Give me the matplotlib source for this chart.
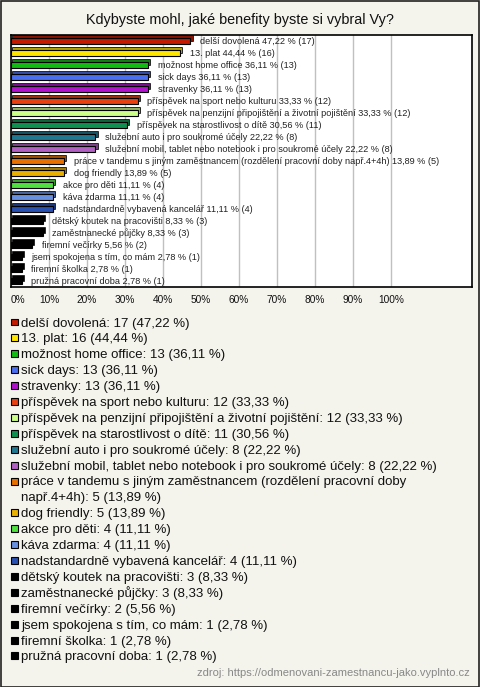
import matplotlib.pyplot as plt
import matplotlib.patheffects as pe
from matplotlib.colors import to_rgb
from matplotlib.patches import Rectangle

plt.rcParams['font.family'] = ['Liberation Sans', 'DejaVu Sans']

# data
benefits = [
    'delší dovolená', '13. plat', 'možnost home office', 'sick days', 'stravenky',
    'příspěvek na sport nebo kulturu',
    'příspěvek na penzijní připojištění a životní pojištění',
    'příspěvek na starostlivost o dítě', 'služební auto i pro soukromé účely',
    'služební mobil, tablet nebo notebook i pro soukromé účely',
    'práce v tandemu s jiným zaměstnancem (rozdělení pracovní doby např.4+4h)',
    'dog friendly', 'akce pro děti', 'káva zdarma', 'nadstandardně vybavená kancelář',
    'dětský koutek na pracovišti', 'zaměstnanecké půjčky', 'firemní večírky',
    'jsem spokojena s tím, co mám', 'firemní školka', 'pružná pracovní doba',
]
counts = [17, 16, 13, 13, 13, 12, 12, 11, 8, 8, 5, 5, 4, 4, 4, 3, 3, 2, 1, 1, 1]
percents = [47.22, 44.44, 36.11, 36.11, 36.11, 33.33, 33.33, 30.56, 22.22, 22.22,
            13.89, 13.89, 11.11, 11.11, 11.11, 8.33, 8.33, 5.56, 2.78, 2.78, 2.78]
colors = ['#c41a00', '#ffe600', '#12bb12', '#4a6ef0', '#b012cc', '#e84010',
          '#ccff88', '#109050', '#207890', '#b060c0', '#e87000', '#e8b000',
          '#50e040', '#6890e0', '#2850b0',
          '#000000', '#000000', '#000000', '#000000', '#000000', '#000000']
ticks = [0, 10, 20, 30, 40, 50, 60, 70, 80, 90, 100]
tick_labels = ['0%', '10%', '20%', '30%', '40%', '50%', '60%', '70%', '80%', '90%', '100%']
legend_breaks = {'práce v tandemu s jiným zaměstnancem (rozdělení pracovní doby např.4+4h)':
                 'práce v tandemu s jiným zaměstnancem (rozdělení pracovní doby\nnapř.4+4h)'}


def fmt(p):
    return ('%.2f' % p).replace('.', ',')


bg = '#f4f3ec'
W, H = 480, 687
fig = plt.figure(figsize=(W / 100, H / 100), dpi=100, facecolor=bg)
fig.patches.append(Rectangle((0.5 / W, 0.5 / H), 1 - 1.5 / W, 1 - 1.5 / H, transform=fig.transFigure,
                             fill=False, edgecolor='#222222', linewidth=1.2))

fig.text(0.5, 1 - 20 / H, 'Kdybyste mohl, jaké benefity byste si vybral Vy?',
         ha='center', va='center', fontsize=10.4, color='#111111')

ax = fig.add_axes([11 / W, 1 - 287 / H, 461 / W, 252 / H])
ax.set_facecolor('white')
ypos = list(range(len(benefits)))
for y, p, c, lab, n in zip(ypos, percents, colors, benefits, counts):
    dark = tuple(v * 0.7 for v in to_rgb(c))
    bar = ax.barh(y, p, height=0.44, color=c, edgecolor='black', linewidth=0.8, zorder=3)
    for b in bar:
        b.set_path_effects([pe.Stroke(offset=(1.6, 1.6), linewidth=1.2, foreground='black'),
                            pe.SimplePatchShadow(offset=(1.6, 1.6), shadow_rgbFace=dark, alpha=1),
                            pe.Normal()])
    ax.annotate('%s %s %% (%d)' % (lab, fmt(p), n),
                xy=(p, y), xytext=(7, 0), textcoords='offset points',
                ha='left', va='center', fontsize=6.6, color='#222222', zorder=4)

ax.set_xlim(0, 121.3)
ax.set_ylim(len(benefits) - 0.5, -0.5)
ax.set_yticks([])
ax.set_xticks(ticks)
ax.set_xticklabels(tick_labels, fontsize=7.3, color='#111111')
ax.tick_params(axis='x', length=0, pad=6)
ax.get_xticklabels()[0].set_horizontalalignment('left')
ax.grid(axis='x', color='#c0c0c0', linewidth=1, zorder=0)
for s in ax.spines.values():
    s.set_color('black')
    s.set_linewidth(1.2)

# legend below the chart
line_h = 15.9
row = 0
for lab, n, p, c in zip(benefits, counts, percents, colors):
    y0 = 322 + row * line_h
    fig.patches.append(Rectangle((10.5 / W, 1 - (y0 + 3.5) / H), 7 / W, 7 / H, transform=fig.transFigure,
                                 facecolor=c, edgecolor='black', linewidth=0.8))
    txt = legend_breaks.get(lab, lab) + ': %d (%s %%)' % (n, fmt(p))
    for line in txt.split('\n'):
        y = 322 + row * line_h
        fig.text(21 / W, 1 - (y + 4.5) / H, line, ha='left', va='baseline', fontsize=9.5, color='#111111')
        row += 1

fig.text(470 / W, 1 - 673 / H, 'zdroj: https://odmenovani-zamestnancu-jako.vyplnto.cz',
         ha='right', va='center', fontsize=8, color='#888888')

fig.savefig('out.png', dpi=100, facecolor=bg)
